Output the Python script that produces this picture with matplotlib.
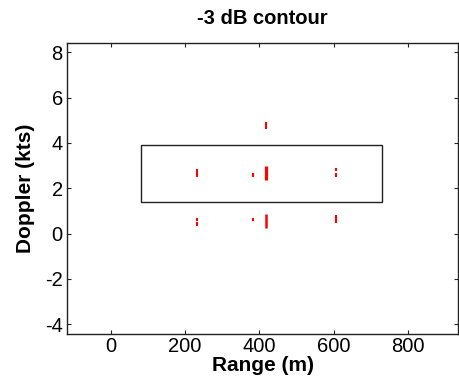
import matplotlib

matplotlib.use("Agg")

import matplotlib.pyplot as plt
import matplotlib.patches as mpatches

plt.rcParams["font.family"] = ["Liberation Sans", "DejaVu Sans"]
plt.rcParams["axes.unicode_minus"] = False

# -3 dB contour pieces: range (m), doppler start, doppler end (kts)
seg_range = [418, 231, 231, 231, 383, 418, 383, 418, 606, 606, 606]
seg_d0 = [4.62, 2.51, 0.32, 0.55, 2.50, 2.35, 0.54, 0.25, 2.50, 2.76, 0.47]
seg_d1 = [4.93, 2.87, 0.51, 0.69, 2.68, 2.97, 0.69, 0.88, 2.69, 2.91, 0.84]
seg_width = [1.5, 1.5, 1.5, 1.5, 1.5, 2.3, 1.5, 1.8, 1.5, 1.5, 1.5]

# search window (range min/max, doppler min/max)
box_range = [80, 730]
box_doppler = [1.41, 3.9]

xticks = [0, 200, 400, 600, 800]
yticks = [-4, -2, 0, 2, 4, 6, 8]

fig = plt.figure(figsize=(4.59, 3.83), dpi=100, facecolor="white")
ax = fig.add_axes([0.146, 0.128, 0.852, 0.761])

ax.vlines(seg_range, seg_d0, seg_d1, colors="#ff0000", linewidths=seg_width)

rect = mpatches.Rectangle(
    (box_range[0], box_doppler[0]),
    box_range[1] - box_range[0],
    box_doppler[1] - box_doppler[0],
    fill=False, edgecolor="#222222", linewidth=1.0,
)
ax.add_patch(rect)

ax.set_xlim(-118, 935)
ax.set_ylim(-4.43, 8.43)
ax.set_xticks(xticks)
ax.set_yticks(yticks)
ax.tick_params(direction="in", length=3, width=0.8, top=True, right=True,
               labelsize=14.5, colors="#222222", labelcolor="black", pad=3)
ax.tick_params(axis="x", pad=2)
for spine in ax.spines.values():
    spine.set_color("#222222")
    spine.set_linewidth(1.0)

ax.set_title("-3 dB contour", fontsize=14.5, fontweight="bold", pad=13)
ax.set_xlabel("Range (m)", fontsize=15, fontweight="bold", labelpad=0)
ax.set_ylabel("Doppler (kts)", fontsize=15, fontweight="bold", labelpad=7)

fig.savefig("out.png", dpi=100)
